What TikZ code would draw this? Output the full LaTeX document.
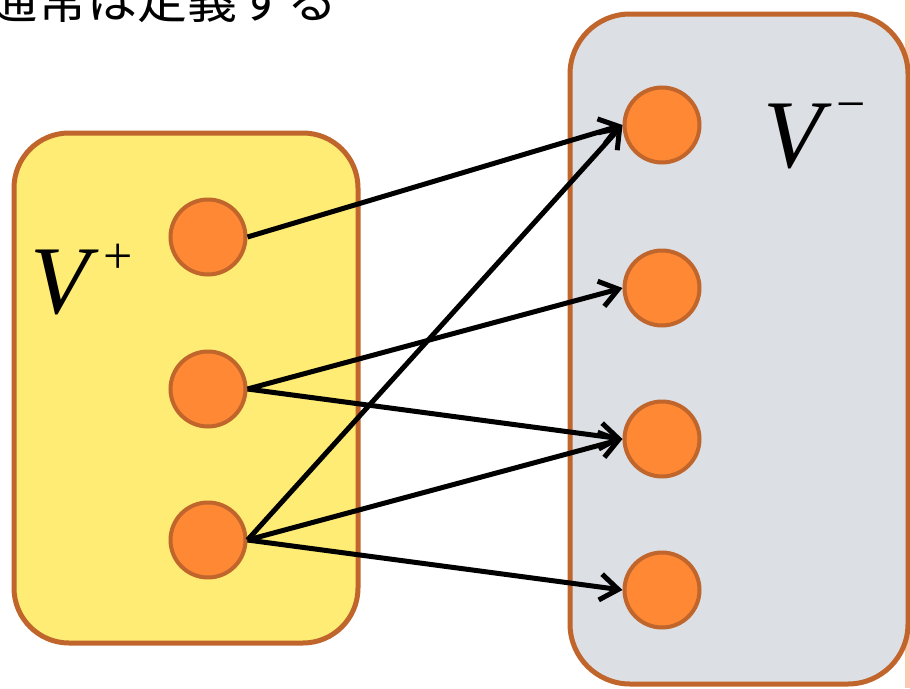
\documentclass[tikz,border=0pt]{standalone}
\usepackage{fontspec}
\newfontfamily\jpfont{Noto Sans CJK JP}
\newfontfamily\setfont{Liberation Serif}
\usepackage{tikz}
\usetikzlibrary{arrows.meta}

\definecolor{rimcolor}{HTML}{C0652B}
\definecolor{plusfill}{HTML}{FEEC75}
\definecolor{minusfill}{HTML}{DCDFE4}
\definecolor{vertexfill}{HTML}{FF8834}
\definecolor{stripcolor}{HTML}{FDC8B3}

\newcommand{\setname}[2]{{\setfont\fontsize{97}{97}\selectfont\itshape V}\hspace{14pt}\raisebox{#2}{\setfont\fontsize{52}{52}\selectfont #1}}

\begin{document}
\begin{tikzpicture}[x=1pt,y=-1pt,
		vertex/.style={circle,draw=rimcolor,fill=vertexfill,line width=4pt,minimum size=75pt,inner sep=0pt},
		edge/.style={line width=5pt,-{Straight Barb[length=18pt,width=26pt]}}]
		\useasboundingbox (0,0) rectangle (910,688);
%		\draw[help lines] (0,0) grid[step=50] (910,688);
		\path (-13,18) coordinate (title);
		\path (14,133) coordinate (plus_tl);
		\path (358,643) coordinate (plus_br);
		\path (570,14) coordinate (minus_tl);
		\path (908,684) coordinate (minus_br);

		\path (208,237) coordinate (p1);
		\path (208,389) coordinate (p2);
		\path (208,540) coordinate (p3);

		\path (662,125) coordinate (m1);
		\path (662,288) coordinate (m2);
		\path (662,439) coordinate (m3);
		\path (662,590) coordinate (m4);

		\path (30,313) coordinate (plus_lbl);
		\path (763,167) coordinate (minus_lbl);

		\fill[stripcolor] (905,0) rectangle (910,688);
		\draw (title) node[anchor=base west,inner sep=0pt] {\jpfont\fontsize{50}{50}\selectfont 通常は定義する};

		\draw[rimcolor,line width=5pt,fill=plusfill,rounded corners=55pt] (plus_tl) rectangle (plus_br);
		\draw[rimcolor,line width=5pt,fill=minusfill,rounded corners=60pt] (minus_tl) rectangle (minus_br);

		\draw (plus_lbl) node[anchor=base west,inner sep=0pt] (vplus) {\setname{+}{40pt}};
		\draw (minus_lbl) node[anchor=base west,inner sep=0pt] (vminus) {\setname{−}{46pt}};

		\node[vertex] (l1) at (p1) {};
		\node[vertex] (l2) at (p2) {};
		\node[vertex] (l3) at (p3) {};
		\node[vertex] (r1) at (m1) {};
		\node[vertex] (r2) at (m2) {};
		\node[vertex] (r3) at (m3) {};
		\node[vertex] (r4) at (m4) {};

		\draw[edge] (l1.east) -- (r1.west);
		\draw[edge] (l2.east) -- (r2.west);
		\draw[edge] (l2.east) -- (r3.west);
		\draw[edge] (l3.east) -- (r1.west);
		\draw[edge] (l3.east) -- (r3.west);
		\draw[edge] (l3.east) -- (r4.west);

	\end{tikzpicture}
\end{document}
